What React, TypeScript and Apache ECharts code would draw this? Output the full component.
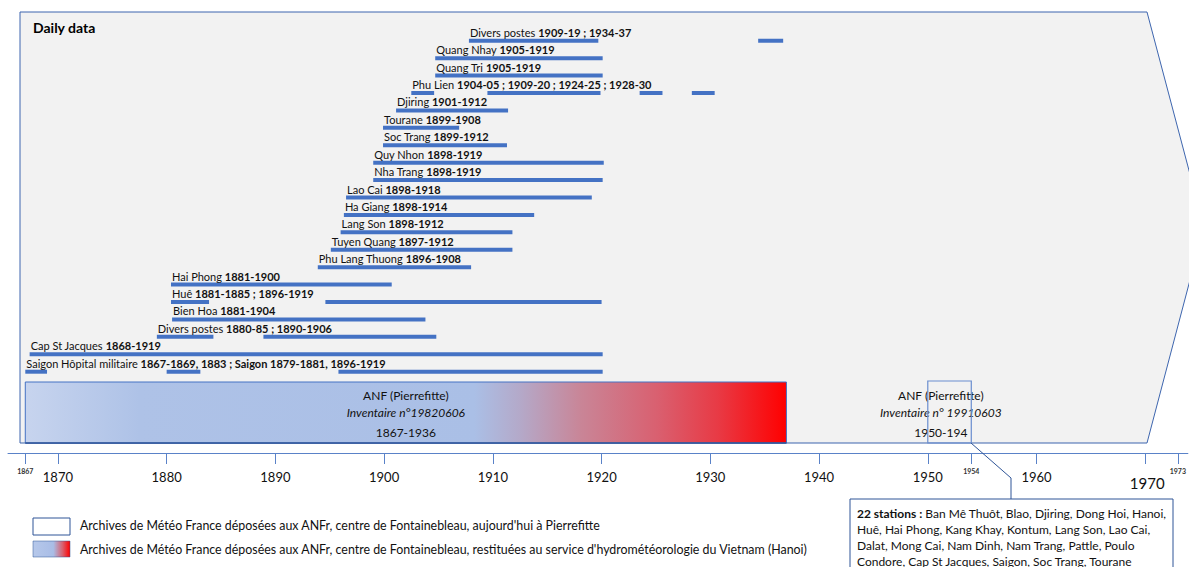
import React, { useEffect, useRef } from "react";
import * as echarts from "echarts";

// ---------- data ----------
// rows from bottom (0) to top (19)
const stationNames = [
  "Saigon Hôpital militaire",
  "Cap St Jacques",
  "Divers postes",
  "Bien Hoa",
  "Huê",
  "Hai Phong",
  "Phu Lang Thuong",
  "Tuyen Quang",
  "Lang Son",
  "Ha Giang",
  "Lao Cai",
  "Nha Trang",
  "Quy Nhon",
  "Soc Trang",
  "Tourane",
  "Djiring",
  "Phu Lien",
  "Quang Tri",
  "Quang Nhay",
  "Divers postes",
];

const stationYears = [
  "1867-1869, 1883 ; Saigon 1879-1881, 1896-1919",
  "1868-1919",
  "1880-85 ; 1890-1906",
  "1881-1904",
  "1881-1885 ; 1896-1919",
  "1881-1900",
  "1896-1908",
  "1897-1912",
  "1898-1912",
  "1898-1914",
  "1898-1918",
  "1898-1919",
  "1898-1919",
  "1899-1912",
  "1899-1908",
  "1901-1912",
  "1904-05 ; 1909-20 ; 1924-25 ; 1928-30",
  "1905-1919",
  "1905-1919",
  "1909-19 ; 1934-37",
];

// bar segments [start, end] in years
const stationPeriods: number[][][] = [
  [[1867.0, 1869.0], [1880.0, 1883.1], [1895.8, 1920.1]],
  [[1867.4, 1920.1]],
  [[1879.1, 1884.3], [1888.9, 1904.8]],
  [[1880.5, 1903.8]],
  [[1880.4, 1883.9], [1894.6, 1920.0]],
  [[1880.4, 1900.7]],
  [[1893.9, 1908.0]],
  [[1895.1, 1911.8]],
  [[1896.0, 1911.8]],
  [[1896.3, 1913.8]],
  [[1896.5, 1919.1]],
  [[1899.0, 1920.1]],
  [[1899.0, 1920.2]],
  [[1899.9, 1911.3]],
  [[1899.9, 1906.9]],
  [[1901.1, 1911.4]],
  [[1902.5, 1904.6], [1909.5, 1919.9], [1923.5, 1925.6], [1928.3, 1930.4]],
  [[1904.7, 1920.1]],
  [[1904.7, 1920.1]],
  [[1907.8, 1919.7], [1934.4, 1936.7]],
];

const archiveFrom = [1867, 1950];
const archiveTo = [1937, 1954];
const archiveLabelAt = [1902, 1951.2];
const archiveTitles = ["ANF (Pierrefitte)", "ANF (Pierrefitte)"];
const archiveInventories = ["Inventaire n°19820606", "Inventaire n° 19910603"];
const archivePeriods = ["1867-1936", "1950-194"];

const tickYears = [1867, 1870, 1880, 1890, 1900, 1910, 1920, 1930, 1940, 1950, 1954, 1960, 1970, 1973];
const smallTickYears = [1867, 1954, 1973];

const legendTexts = [
  "Archives de Météo France déposées aux ANFr, centre de Fontainebleau, aujourd'hui à Pierrefitte",
  "Archives de Météo France déposées aux ANFr, centre de Fontainebleau, restituées au service d'hydrométéorologie du Vietnam (Hanoi)",
];

const infoLines = [
  "Ban Mê Thuôt, Blao, Djiring, Dong Hoi, Hanoi,",
  "Huê, Hai Phong, Kang Khay, Kontum, Lang Son, Lao Cai,",
  "Dalat, Mong Cai, Nam Dinh, Nam Trang, Pattle, Poulo",
  "Condore, Cap St Jacques, Saigon, Soc Trang, Tourane",
];

const FONT = "Lato, 'Open Sans', sans-serif";
const BAR = "#4472C4";
const DARK = "#2F5597";

function mainGradient() {
  return new echarts.graphic.LinearGradient(0, 0, 1, 0, [
    { offset: 0, color: "#c7d4ee" },
    { offset: 0.15, color: "#aec2e7" },
    { offset: 0.59, color: "#aabfe6" },
    { offset: 0.65, color: "#b4a9c9" },
    { offset: 0.73, color: "#c98597" },
    { offset: 0.83, color: "#d96070" },
    { offset: 0.91, color: "#e83a45" },
    { offset: 1, color: "#ff0000" },
  ]);
}

export default function App() {
  const ref = useRef<HTMLDivElement>(null);

  useEffect(() => {
    if (!ref.current) return;
    const chart = echarts.init(ref.current, null, { renderer: "svg" });

    const option: any = {
      animation: false,
      grid: { left: 8, right: 0, top: 12, bottom: 114 },
      xAxis: {
        type: "value",
        min: 1865.41,
        max: 1973.92,
        position: "bottom",
        splitLine: { show: false },
        axisLine: { show: true, onZero: false, lineStyle: { color: "#5a82c8", width: 1 } },
        axisTick: {
          show: true,
          customValues: tickYears,
          length: 11,
          lineStyle: { color: "#5a82c8", width: 1 },
        },
        axisLabel: {
          show: true,
          customValues: tickYears,
          margin: 14,
          color: "#111",
          fontFamily: FONT,
          formatter: (v: number) => {
            if (smallTickYears.indexOf(v) >= 0) return `{s|${v}}`;
            if (v === 1970) return `{l|${v}}`;
            return `{m|${v}}`;
          },
          rich: {
            m: { fontSize: 13, fontFamily: FONT, color: "#111", padding: [3, 0, 0, 0] },
            s: { fontSize: 7, fontFamily: FONT, color: "#333", fontWeight: "bold" },
            l: { fontSize: 15, fontFamily: FONT, color: "#111", padding: [8, 0, 0, 4] },
          },
        },
      },
      yAxis: {
        type: "value",
        min: -4.667,
        max: 20.65,
        show: false,
        splitLine: { show: false },
      },
      graphic: [
        {
          type: "polygon",
          z: -10,
          shape: {
            points: [
              [20, 12],
              [1147, 12],
              [1204, 227],
              [1147, 443],
              [20, 443],
            ],
          },
          style: { fill: "#f2f2f2", stroke: "#3d65ae", lineWidth: 1 },
        },
        {
          type: "text",
          left: 33,
          top: 20,
          style: { text: "Daily data", font: `bold 14px ${FONT}`, fill: "#000" },
        },
        {
          type: "polyline",
          z: 5,
          shape: { points: [[971, 443], [1011, 478], [1011, 499]] },
          style: { stroke: DARK, lineWidth: 1, fill: null },
        },
        {
          type: "rect",
          z: 5,
          shape: { x: 850, y: 499, width: 323, height: 100 },
          style: { fill: "#fff", stroke: DARK, lineWidth: 1 },
        },
        {
          type: "text",
          z: 6,
          left: 857,
          top: 505,
          style: {
            text: "{b|22 stations :} " + infoLines.join("\n"),
            font: `12px ${FONT}`,
            lineHeight: 16,
            fill: "#111",
            rich: {
              b: { fontWeight: "bold", fontSize: 12, fontFamily: FONT, lineHeight: 16, fill: "#111" },
            },
          },
        },
        {
          type: "rect",
          shape: { x: 33, y: 518, width: 37, height: 17 },
          style: { fill: "#fff", stroke: DARK, lineWidth: 1 },
        },
        {
          type: "text",
          left: 80,
          top: 519,
          style: { text: legendTexts[0], font: `12.4px ${FONT}`, fill: "#111" },
        },
        {
          type: "rect",
          shape: { x: 33, y: 541, width: 37, height: 16 },
          style: {
            fill: new echarts.graphic.LinearGradient(0, 0, 1, 0, [
              { offset: 0, color: "#b6c8ea" },
              { offset: 0.55, color: "#a9bde6" },
              { offset: 0.8, color: "#d9606e" },
              { offset: 1, color: "#ff0000" },
            ]),
            stroke: DARK,
            lineWidth: 0.5,
          },
        },
        {
          type: "text",
          left: 80,
          top: 543,
          style: { text: legendTexts[1], font: `12.4px ${FONT}`, fill: "#111" },
        },
      ],
      series: [
        {
          type: "custom",
          name: "archives",
          z: 1,
          data: archiveFrom.map((f, i) => [f, -2, archiveTo[i]]),
          renderItem: (params: any, api: any) => {
            const i = params.dataIndex;
            const cs = params.coordSys;
            const bottom = cs.y + cs.height;
            const p0 = api.coord([archiveFrom[i], 0]);
            const p1 = api.coord([archiveTo[i], 0]);
            const pc = api.coord([archiveLabelAt[i], 0]);
            const top = bottom - 71;
            const h = 61;
            const children: any[] = [];
            if (i === 0) {
              children.push({
                type: "rect",
                shape: { x: p0[0], y: top, width: p1[0] - p0[0], height: h },
                style: { fill: mainGradient(), stroke: "#4472C4", lineWidth: 1 },
              });
              children.push({
                type: "line",
                shape: { x1: p0[0], y1: top + h, x2: p1[0], y2: top + h },
                style: { stroke: DARK, lineWidth: 1.5 },
              });
            }
            children.push({
              type: "text",
              style: {
                x: pc[0], y: top + 13, text: archiveTitles[i],
                font: `12px ${FONT}`, fill: "#111", align: "center", verticalAlign: "middle",
              },
            });
            children.push({
              type: "text",
              style: {
                x: pc[0], y: top + 30, text: archiveInventories[i],
                font: `italic 12px ${FONT}`, fill: "#111", align: "center", verticalAlign: "middle",
              },
            });
            children.push({
              type: "text",
              style: {
                x: pc[0], y: top + 50, text: archivePeriods[i],
                font: `12px ${FONT}`, fill: "#111", align: "center", verticalAlign: "middle",
              },
            });
            if (i === 1) {
              children.push({
                type: "rect",
                shape: { x: p0[0], y: top - 1, width: p1[0] - p0[0], height: h + 1 },
                style: { fill: "rgba(0,0,0,0)", stroke: "#6a8dcf", lineWidth: 1.2 },
              });
            }
            return { type: "group", children };
          },
        },
        {
          type: "custom",
          name: "stations",
          z: 2,
          data: stationNames.map((_, i) => [stationPeriods[i][0][0], i]),
          renderItem: (params: any, api: any) => {
            const i = params.dataIndex;
            const segs = stationPeriods[i];
            const children: any[] = segs.map(([a, b]) => {
              const q0 = api.coord([a, i]);
              const q1 = api.coord([b, i]);
              return {
                type: "rect",
                shape: { x: q0[0], y: q0[1] - 2, width: q1[0] - q0[0], height: 4 },
                style: { fill: BAR },
              };
            });
            const s = api.coord([segs[0][0], i]);
            children.push({
              type: "text",
              style: {
                x: s[0] + 1,
                y: s[1] - 8.5,
                text: `{n|${stationNames[i]}} {y|${stationYears[i]}}`,
                align: "left",
                verticalAlign: "middle",
                font: `11px ${FONT}`,
                fill: "#111",
                rich: {
                  n: { fontSize: 11, fontFamily: FONT, fill: "#111" },
                  y: { fontSize: 11, fontFamily: FONT, fill: "#111", fontWeight: "bold" },
                },
              },
            });
            return { type: "group", children };
          },
        },
      ],
    };

    chart.setOption(option);
    return () => chart.dispose();
  }, []);

  return (
    <div
      ref={ref}
      style={{ position: "fixed", left: 0, top: 0, width: 1189, height: 567, background: "#fff" }}
    />
  );
}
